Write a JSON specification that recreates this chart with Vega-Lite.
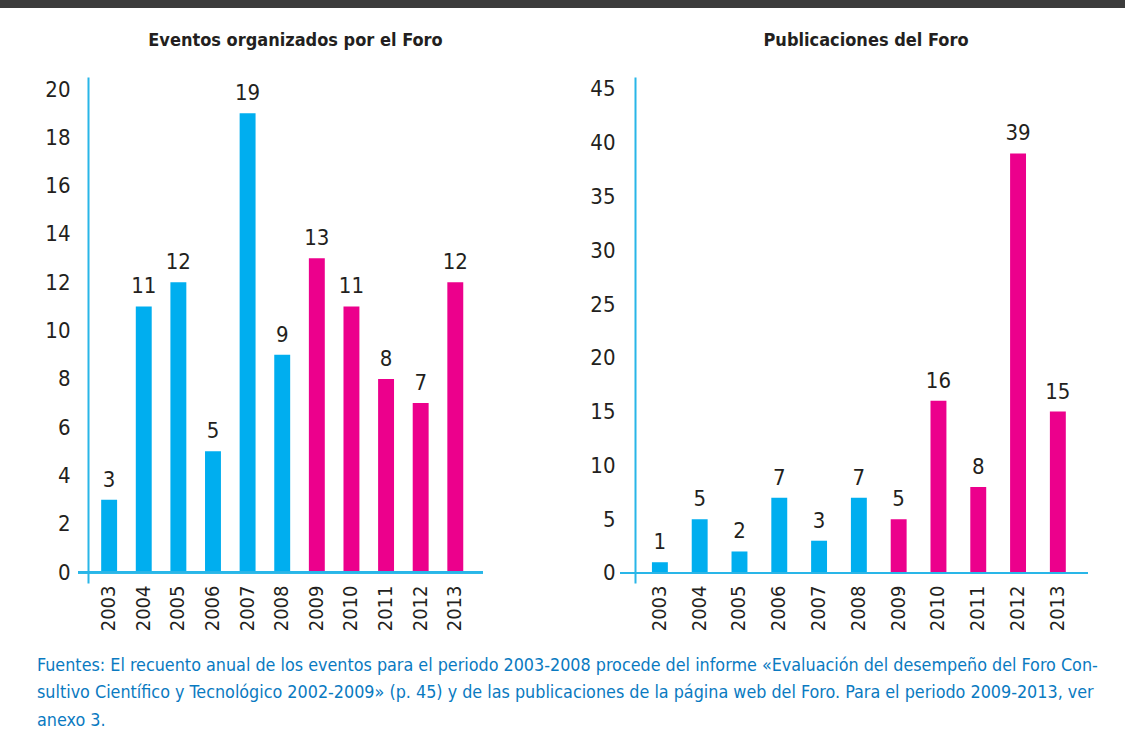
{
  "$schema": "https://vega.github.io/schema/vega-lite/v6.json",
  "background": "white",
  "padding": 0,
  "datasets": {
    "d": [
      {"anio": "2003", "eventos": 3, "publicaciones": 1, "periodo": "2003-2008"},
      {"anio": "2004", "eventos": 11, "publicaciones": 5, "periodo": "2003-2008"},
      {"anio": "2005", "eventos": 12, "publicaciones": 2, "periodo": "2003-2008"},
      {"anio": "2006", "eventos": 5, "publicaciones": 7, "periodo": "2003-2008"},
      {"anio": "2007", "eventos": 19, "publicaciones": 3, "periodo": "2003-2008"},
      {"anio": "2008", "eventos": 9, "publicaciones": 7, "periodo": "2003-2008"},
      {"anio": "2009", "eventos": 13, "publicaciones": 5, "periodo": "2009-2013"},
      {"anio": "2010", "eventos": 11, "publicaciones": 16, "periodo": "2009-2013"},
      {"anio": "2011", "eventos": 8, "publicaciones": 8, "periodo": "2009-2013"},
      {"anio": "2012", "eventos": 7, "publicaciones": 39, "periodo": "2009-2013"},
      {"anio": "2013", "eventos": 12, "publicaciones": 15, "periodo": "2009-2013"}
    ],
    "empty": []
  },
  "config": {
    "font": "DejaVu Sans Condensed, sans-serif",
    "view": {"stroke": null},
    "axis": {"labelColor": "#231f20", "labelFontSize": 22, "title": null, "grid": false, "ticks": false},
    "text": {"color": "#231f20"}
  },
  "title": {
    "text": [
      "Fuentes: El recuento anual de los eventos para el periodo 2003-2008 procede del informe «Evaluación del desempeño del Foro Con-",
      "sultivo Científico y Tecnológico 2002-2009» (p. 45) y de las publicaciones de la página web del Foro. Para el periodo 2009-2013, ver",
      "anexo 3."
    ],
    "orient": "bottom",
    "anchor": "start",
    "frame": "group",
    "dx": 37,
    "offset": 26,
    "fontSize": 17.8,
    "fontWeight": "normal",
    "color": "#0a7ac1",
    "lineHeight": 27.5
  },
  "center": true,
  "spacing": 24,
  "vconcat": [
    {
      "width": 1167,
      "height": 8,
      "data": {"name": "empty"},
      "mark": "rect",
      "view": {"fill": "#3c3c3c", "stroke": null}
    },
    {
      "spacing": 105,
      "hconcat": [
        {
          "width": 405,
          "height": 506,
          "data": {"name": "d"},
          "title": {"text": "Eventos organizados por el Foro", "fontSize": 18, "fontWeight": "bold", "color": "#231f20", "anchor": "middle", "frame": "group", "dx": 15, "offset": 27},
          "encoding": {
            "x": {"field": "anio", "type": "nominal", "sort": null,
              "scale": {"paddingInner": 0.54, "paddingOuter": 0.62, "align": 0.54},
              "axis": {"labelAngle": -90, "domain": false, "labelPadding": 2, "labelFontSize": 20}},
            "y": {"field": "eventos", "type": "quantitative",
              "scale": {"domain": [-0.45, 20.5], "nice": false, "zero": false},
              "axis": {"values": [0, 2, 4, 6, 8, 10, 12, 14, 16, 18, 20], "offset": -10, "domainColor": "#29b6e8", "domainWidth": 2, "labelPadding": 18,
                "title": " ", "titleFontSize": 8, "titlePadding": 36}}
          },
          "layer": [
            {"mark": {"type": "bar"},
             "encoding": {
               "y2": {"datum": 0},
               "color": {"field": "periodo", "type": "nominal", "scale": {"domain": ["2003-2008", "2009-2013"], "range": ["#00aeef", "#ec008c"]}, "legend": null}
             }},
            {"mark": {"type": "text", "baseline": "alphabetic", "dy": -13, "fontSize": 22},
             "encoding": {"text": {"field": "eventos", "type": "quantitative"}}},
            {"mark": {"type": "rule", "color": "#29b6e8", "strokeWidth": 2},
             "encoding": {"y": {"datum": 0}, "x": null}}
          ]
        },
        {
          "width": 468,
          "height": 506,
          "data": {"name": "d"},
          "title": {"text": "Publicaciones del Foro", "fontSize": 18, "fontWeight": "bold", "color": "#231f20", "anchor": "middle", "frame": "group", "dx": 12, "offset": 27},
          "encoding": {
            "x": {"field": "anio", "type": "nominal", "sort": null,
              "scale": {"paddingInner": 0.6, "paddingOuter": 0.68, "align": 0.59},
              "axis": {"labelAngle": -90, "domain": false, "labelPadding": 2, "labelFontSize": 20}},
            "y": {"field": "publicaciones", "type": "quantitative",
              "scale": {"domain": [-0.93, 46.1], "nice": false, "zero": false},
              "axis": {"values": [0, 5, 10, 15, 20, 25, 30, 35, 40, 45], "offset": -15, "domainColor": "#29b6e8", "domainWidth": 2, "labelPadding": 20}}
          },
          "layer": [
            {"mark": {"type": "bar"},
             "encoding": {
               "y2": {"datum": 0},
               "color": {"field": "periodo", "type": "nominal", "scale": {"domain": ["2003-2008", "2009-2013"], "range": ["#00aeef", "#ec008c"]}, "legend": null}
             }},
            {"mark": {"type": "text", "baseline": "alphabetic", "dy": -13, "fontSize": 22},
             "encoding": {"text": {"field": "publicaciones", "type": "quantitative"}}},
            {"mark": {"type": "rule", "color": "#29b6e8", "strokeWidth": 2},
             "encoding": {"y": {"datum": 0}, "x": null}}
          ]
        }
      ]
    }
  ]
}
